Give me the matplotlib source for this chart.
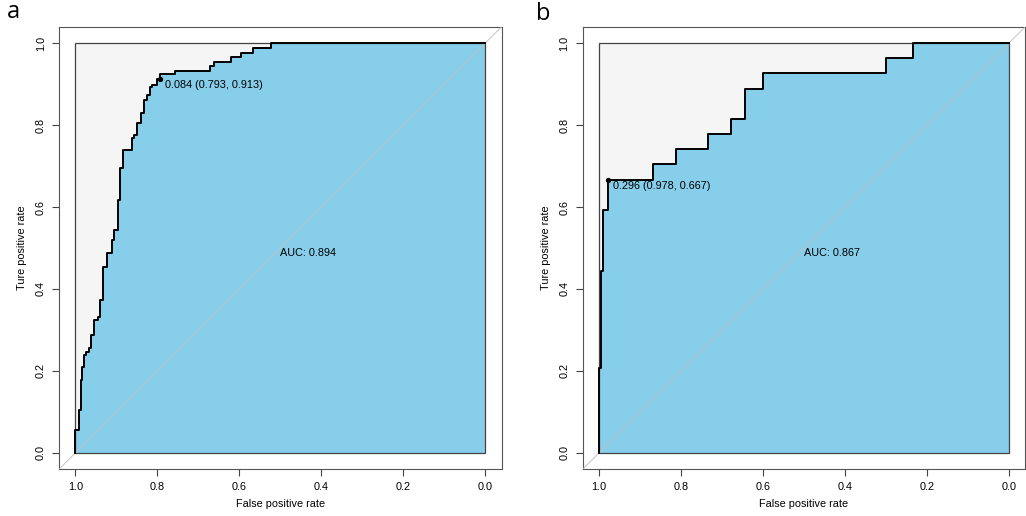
import numpy as np
import matplotlib
matplotlib.use("Agg")
import matplotlib.pyplot as plt
from matplotlib.patches import Rectangle

plt.rcParams['font.family'] = ['Liberation Sans', 'DejaVu Sans']

# ROC points (specificity, sensitivity)
spec_a = [1.000, 1.000, 0.991, 0.991, 0.987, 0.987, 0.983, 0.979, 0.975, 0.968,
          0.963, 0.954, 0.946, 0.940, 0.932, 0.924, 0.921, 0.911, 0.907, 0.903,
          0.895, 0.891, 0.890, 0.884, 0.878, 0.862, 0.858, 0.850, 0.841, 0.833,
          0.825, 0.817, 0.813, 0.801, 0.801, 0.793, 0.756, 0.671, 0.661, 0.620,
          0.595, 0.566, 0.524, 0.000]
sens_a = [0.000, 0.057, 0.057, 0.105, 0.105, 0.149, 0.179, 0.210, 0.239, 0.247,
          0.256, 0.288, 0.325, 0.332, 0.373, 0.454, 0.488, 0.488, 0.520, 0.544,
          0.544, 0.617, 0.673, 0.695, 0.739, 0.739, 0.768, 0.775, 0.805, 0.829,
          0.861, 0.873, 0.892, 0.897, 0.904, 0.913, 0.924, 0.933, 0.945, 0.955,
          0.965, 0.976, 0.987, 1.000]

spec_b = [1.000, 1.000, 0.996, 0.996, 0.989, 0.989, 0.978, 0.978, 0.867, 0.867,
          0.811, 0.811, 0.733, 0.733, 0.678, 0.678, 0.644, 0.644, 0.600, 0.600,
          0.300, 0.300, 0.233, 0.233, 0.000]
sens_b = [0.000, 0.207, 0.207, 0.444, 0.444, 0.593, 0.593, 0.667, 0.667, 0.704,
          0.704, 0.741, 0.741, 0.778, 0.778, 0.815, 0.815, 0.889, 0.889, 0.926,
          0.926, 0.963, 0.963, 1.000, 1.000]

best_a = (0.793, 0.913)
best_b = (0.978, 0.667)
thr_a = "0.084 (0.793, 0.913)"
thr_b = "0.296 (0.978, 0.667)"
auc_a = "AUC: 0.894"
auc_b = "AUC: 0.867"

FS = 7.8
ticks = [0.0, 0.2, 0.4, 0.6, 0.8, 1.0]


def roc_panel(ax, spec, sens, best, thr_txt, auc_txt):
    ax.set_xlim(1.04, -0.04)
    ax.set_ylim(-0.04, 1.04)

    # grey max-auc square, blue auc area, box edge
    ax.add_patch(Rectangle((0, 0), 1, 1, facecolor='#F5F5F5', edgecolor='none', zorder=1))
    ax.fill_between(spec, sens, 0, step='pre', color='#87CEEB', linewidth=0, zorder=2)
    ax.add_patch(Rectangle((0, 0), 1, 1, facecolor='none', edgecolor='#444444',
                           linewidth=0.9, zorder=3))

    # chance line runs to the plot edge
    ax.plot([1.04, -0.04], [-0.04, 1.04], color='#C0C0C0', linewidth=0.65, zorder=3)

    ax.plot(spec, sens, drawstyle='steps-pre', color='black', linewidth=1.4, zorder=4)
    ax.plot(*best, 'o', color='black', markersize=2.8, zorder=5)
    ax.annotate(thr_txt, xy=best, xytext=(3.5, -4.6), textcoords='offset points',
                ha='left', va='center', fontsize=FS, zorder=6)
    ax.text(0.5, 0.5, auc_txt, ha='left', va='top', fontsize=FS, zorder=6)

    ax.set_xticks(ticks)
    ax.set_yticks(ticks)
    ax.set_xticklabels(['%.1f' % t for t in ticks])
    ax.set_yticklabels(['%.1f' % t for t in ticks], rotation=90, va='center')
    ax.tick_params(direction='out', length=5, width=0.8, color='#444444',
                   labelsize=FS, pad=4.5)
    for s in ax.spines.values():
        s.set_color('#555555')
        s.set_linewidth(0.8)
    ax.set_xlabel('False positive rate', fontsize=FS, labelpad=4.5)
    ax.set_ylabel('Ture positive rate', fontsize=FS, labelpad=6)


fig = plt.figure(figsize=(10.26, 5.16), dpi=100)
ax1 = fig.add_axes([0.0575, 0.0905, 0.4315, 0.8578])
ax2 = fig.add_axes([0.5678, 0.0905, 0.4315, 0.8578])

roc_panel(ax1, spec_a, sens_a, best_a, thr_a, auc_a)
roc_panel(ax2, spec_b, sens_b, best_b, thr_b, auc_b)

fig.text(7 / 1026, 1 - 18 / 516, 'a', fontsize=17, family='Open Sans', va='baseline')
fig.text(536 / 1026, 1 - 20 / 516, 'b', fontsize=17, family='Open Sans', va='baseline')

fig.savefig('out.png', dpi=100)
